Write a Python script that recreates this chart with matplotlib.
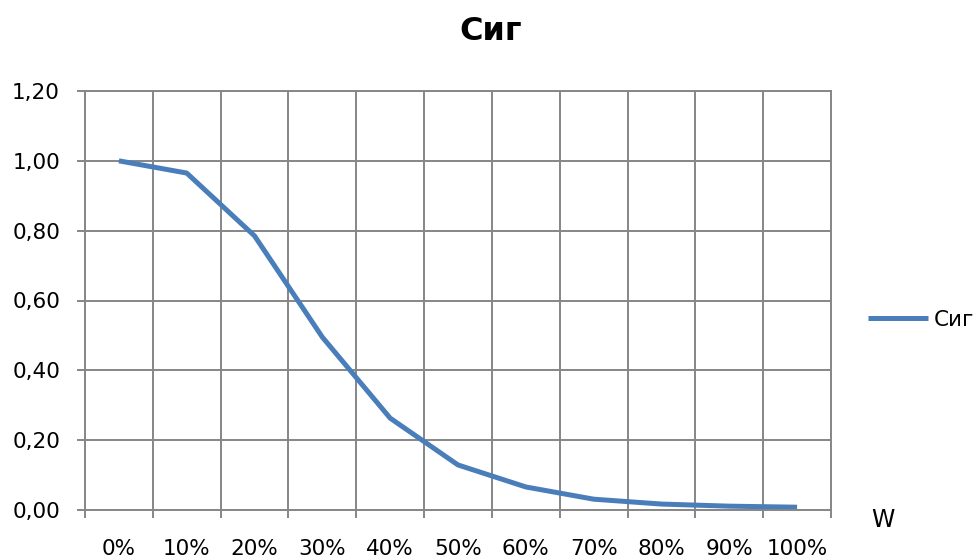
import numpy as np
import matplotlib.pyplot as plt
from matplotlib.ticker import FixedLocator

# data
categories = ['0%', '10%', '20%', '30%', '40%', '50%', '60%', '70%', '80%', '90%', '100%']
sig = [1.00, 0.965, 0.785, 0.495, 0.263, 0.129, 0.066, 0.031, 0.017, 0.011, 0.008]
yticks = [0.0, 0.2, 0.4, 0.6, 0.8, 1.0, 1.2]

grid_col = '#868686'
line_col = '#4A7EBB'

fig = plt.figure(figsize=(9.75, 5.59), dpi=100)
ax = fig.add_axes([85/975, 1 - 510/559, (831 - 85)/975, (510 - 91)/559])

x = np.arange(len(categories))
ax.plot(x, sig, color=line_col, lw=3.6, solid_capstyle='butt', label='Сиг')

ax.set_xlim(-0.5, len(categories) - 0.5)
ax.set_ylim(0, 1.2)

# category axis: labels centred, gridlines between categories
ax.set_xticks(x)
ax.set_xticklabels(categories)
ax.xaxis.set_minor_locator(FixedLocator(np.arange(-0.5, len(categories))))
ax.tick_params(axis='x', which='major', length=0, pad=21, labelsize=15.5)
ax.tick_params(axis='x', which='minor', length=6, width=1.4, color=grid_col, direction='out')
ax.grid(True, which='minor', axis='x', color=grid_col, lw=1.4)

ax.set_yticks(yticks)
ax.set_yticklabels([f'{v:.2f}'.replace('.', ',') for v in yticks])
ax.tick_params(axis='y', length=6, width=1.4, color=grid_col, pad=12, labelsize=15.5)
ax.grid(True, which='major', axis='y', color=grid_col, lw=1.4)
ax.set_axisbelow(True)

for s in ax.spines.values():
    s.set_color(grid_col)
    s.set_linewidth(1.4)

fig.text(491/975, 1 - 31/559, 'Сиг', ha='center', va='center', fontsize=23, fontweight='bold')
fig.text(883/975, 1 - 520/559, 'W', ha='center', va='center', fontsize=17)

fig.legend(loc='center left', bbox_to_anchor=(868/975, 1 - 320/559), frameon=False,
           fontsize=15.5, handlelength=2.8, handletextpad=0.25, borderpad=0, borderaxespad=0)

fig.savefig('out.png', dpi=100)
